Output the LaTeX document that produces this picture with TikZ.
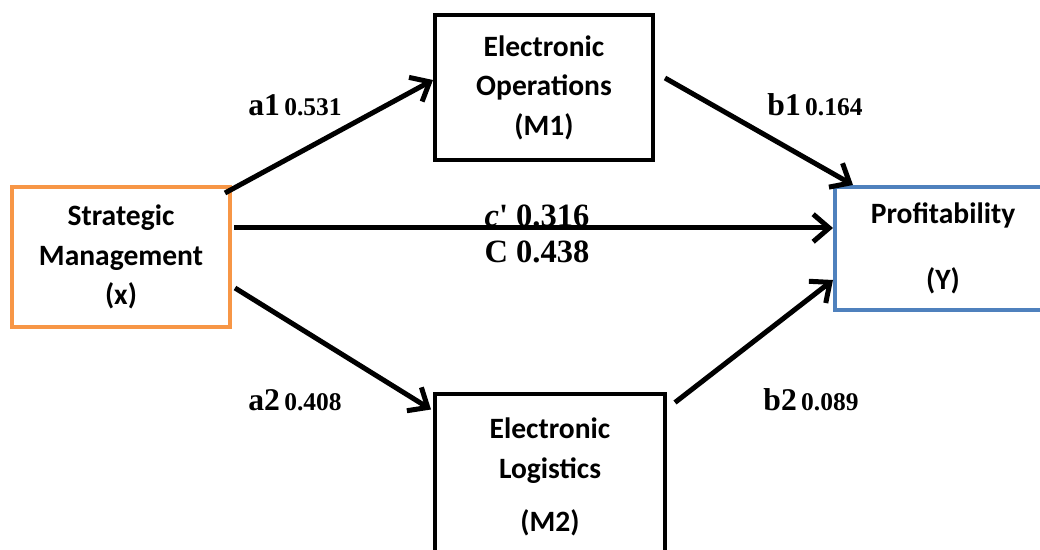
\documentclass[tikz,border=0pt]{standalone}
\usepackage{fontspec}
\usepackage{tikz}
\usetikzlibrary{arrows.meta}
\newfontfamily\boxfont{Carlito}
\newfontfamily\coeffont{Liberation Serif}
\definecolor{smorange}{HTML}{F79646}
\definecolor{yblue}{HTML}{4F81BD}
\newcommand{\pathlab}[2]{{\fontsize{18}{20}\selectfont #1} {\fontsize{14.5}{16}\selectfont #2}}

\begin{document}
\begin{tikzpicture}[
  box/.style={draw,line width=0.08cm,align=center,inner sep=0pt,
    font=\boxfont\bfseries\fontsize{16.8}{22.5}\selectfont},
  eff/.style={line width=0.1cm,-{Straight Barb[length=0.32cm,width=0.55cm]}},
  coef/.style={font=\coeffont\bfseries}]
  \clip (0,0) rectangle (20.8,11);
  \fill[white] (0,0) rectangle (20.8,11);
  % the four variables
  \node[box,draw=smorange,minimum width=4.36cm,minimum height=2.8cm] (sm) at (2.42,5.86)
    {Strategic\\Management\\(x)};
  \node[box,minimum width=4.36cm,minimum height=2.9cm] (eo) at (10.88,9.25)
    {Electronic\\Operations\\(M1)};
  \node[box,minimum width=4.6cm,minimum height=3.3cm] (el) at (11.0,1.46)
    {Electronic\\Logistics\\[8pt](M2)};
  \node[box,draw=yblue,minimum width=4.32cm,minimum height=2.46cm] (pr) at (18.86,6.03)
    {Profitability\\[15pt](Y)};
  % indirect paths
  \draw[eff] ([shift={(-0.14,-0.16)}]sm.north east) -- ([yshift=0.15cm]eo.west);
  \draw[eff] ([shift={(0.06,-0.62)}]sm.east) -- ([shift={(-0.04,-0.34)}]el.north west);
  \draw[eff] ([shift={(0.2,0.19)}]eo.east) -- ([xshift=0.4cm]pr.north west);
  \draw[eff] ([shift={(0.16,-0.2)}]el.north east) -- ([yshift=0.64cm]pr.south west);
  % direct path
  \draw[eff] ([shift={(0.04,0.58)}]sm.east) -- ([yshift=0.58cm]sm.east -| pr.west);
  % coefficients
  \node[coef] (la1) at (5.9,8.9) {\pathlab{a1}{0.531}};
  \node[coef] (la2) at (5.9,3.0) {\pathlab{a2}{0.408}};
  \node[coef] (lb1) at (16.3,8.9) {\pathlab{b1}{0.164}};
  \node[coef] (lb2) at (16.22,3.0) {\pathlab{b2}{0.089}};
  \node[coef,font=\coeffont\bfseries\fontsize{18.5}{20}\selectfont] (lc1) at (10.74,6.68) {\textit{c}' 0.316};
  \node[coef,font=\coeffont\bfseries\fontsize{18.5}{20}\selectfont] (lc) at (10.74,5.96) {C 0.438};
\end{tikzpicture}
\end{document}
